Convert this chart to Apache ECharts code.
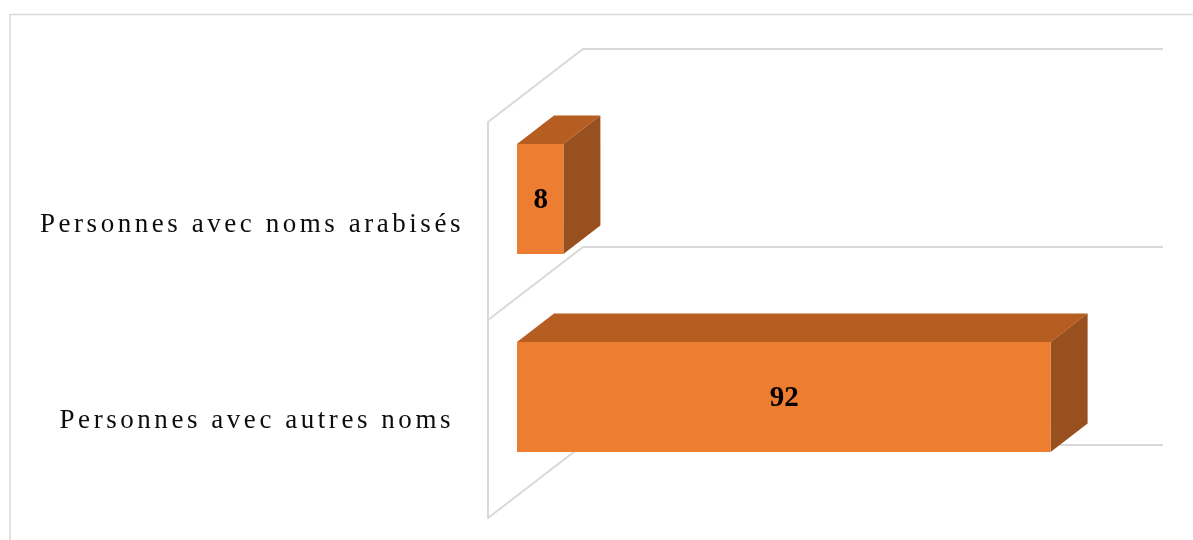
<!DOCTYPE html>
<html>
<head>
<meta charset="utf-8">
<style>html,body{margin:0;padding:0;background:#fff}#c{width:1193px;height:540px}</style>
<script src="https://cdn.jsdelivr.net/npm/echarts@6/dist/echarts.min.js"></script>
</head>
<body>
<div id="c"></div>
<script>
const categories = ['Personnes avec noms arabisés', 'Personnes avec autres noms'];
const values = [8, 92];
const wallLevels = [0, 1, 2];

const LABEL_FONT = 27, LABEL_SPACING = '3.55px';
const origFill = CanvasRenderingContext2D.prototype.fillText;
CanvasRenderingContext2D.prototype.fillText = function (t, x, y, m) {
  this.letterSpacing = this.font.indexOf(LABEL_FONT + 'px') >= 0 ? LABEL_SPACING : '0px';
  return m === undefined ? origFill.call(this, t, x, y) : origFill.call(this, t, x, y, m);
};

const WALL = '#D9D9D9';
const FRONT = '#ED7D31', TOP = '#B65D21', SIDE = '#97501E';
const wallDepth = [95, -73];
const barOffset = [29, -22];
const barDepth = [37, -28.5];

const chart = echarts.init(document.getElementById('c'), null, { renderer: 'canvas' });
chart.setOption({
  animation: false,
  backgroundColor: '#fff',
  graphic: [{
    type: 'polyline', silent: true,
    shape: { points: [[10, 540], [10, 14.5], [1193, 14.5]] },
    style: { stroke: WALL, lineWidth: 1.5, fill: null }
  }],
  grid: { left: 488, top: 122, width: 580, height: 396, containLabel: false },
  xAxis: { type: 'value', min: 0, max: 100, show: false, splitLine: { show: false } },
  yAxis: {
    type: 'category', inverse: true,
    data: [
      { value: categories[0], textStyle: { verticalAlign: 'top', lineHeight: 8 } },
      { value: categories[1], textStyle: { verticalAlign: 'top', lineHeight: 4, padding: [0, 10, 0, 0] } }
    ],
    axisTick: { show: false },
    axisLine: { show: true, lineStyle: { color: WALL, width: 2 } },
    axisLabel: { margin: 24, fontFamily: '"Liberation Serif"', fontSize: LABEL_FONT, color: '#0d0d0d', align: 'right' }
  },
  series: [
    {
      type: 'custom', z: 1, silent: true,
      data: wallLevels,
      encode: { x: -1, y: -1 },
      renderItem(params, api) {
        const lvl = api.value(0);
        const band = api.size([0, 1])[1];
        const p0 = api.coord([0, 0]);
        const p1 = api.coord([100, 0]);
        const y = p0[1] - band / 2 + lvl * band;
        return {
          type: 'polyline',
          shape: { points: [[p0[0], y], [p0[0] + wallDepth[0], y + wallDepth[1]], [p1[0] + wallDepth[0], y + wallDepth[1]]] },
          style: { stroke: WALL, lineWidth: 2, fill: null }
        };
      }
    },
    {
      type: 'custom', z: 2, silent: true,
      data: values.map((v, i) => [v, i]),
      encode: { x: 0, y: 1 },
      renderItem(params, api) {
        const v = api.value(0), i = api.value(1);
        const c0 = api.coord([0, i]), c1 = api.coord([v, i]);
        const h = api.size([0, 1])[1] * 0.5556;
        const x0 = c0[0] + barOffset[0], x1 = c1[0] + barOffset[0];
        const yT = c0[1] + barOffset[1] - h / 2, yB = yT + h;
        const dx = barDepth[0], dy = barDepth[1];
        return {
          type: 'group',
          children: [
            { type: 'polygon', shape: { points: [[x0, yT], [x1, yT], [x1 + dx, yT + dy], [x0 + dx, yT + dy]] }, style: { fill: TOP } },
            { type: 'polygon', shape: { points: [[x1, yT], [x1 + dx, yT + dy], [x1 + dx, yB + dy], [x1, yB]] }, style: { fill: SIDE } },
            { type: 'rect', shape: { x: x0, y: yT, width: x1 - x0, height: h }, style: { fill: FRONT } },
            { type: 'text', style: { x: (x0 + x1) / 2 + 0.5, y: (yT + yB) / 2 + 2, text: String(v), align: 'center', verticalAlign: 'middle', fontFamily: '"Liberation Serif"', fontWeight: 'bold', fontSize: 29, fill: '#000' } }
          ]
        };
      }
    }
  ]
});
</script>
</body>
</html>
